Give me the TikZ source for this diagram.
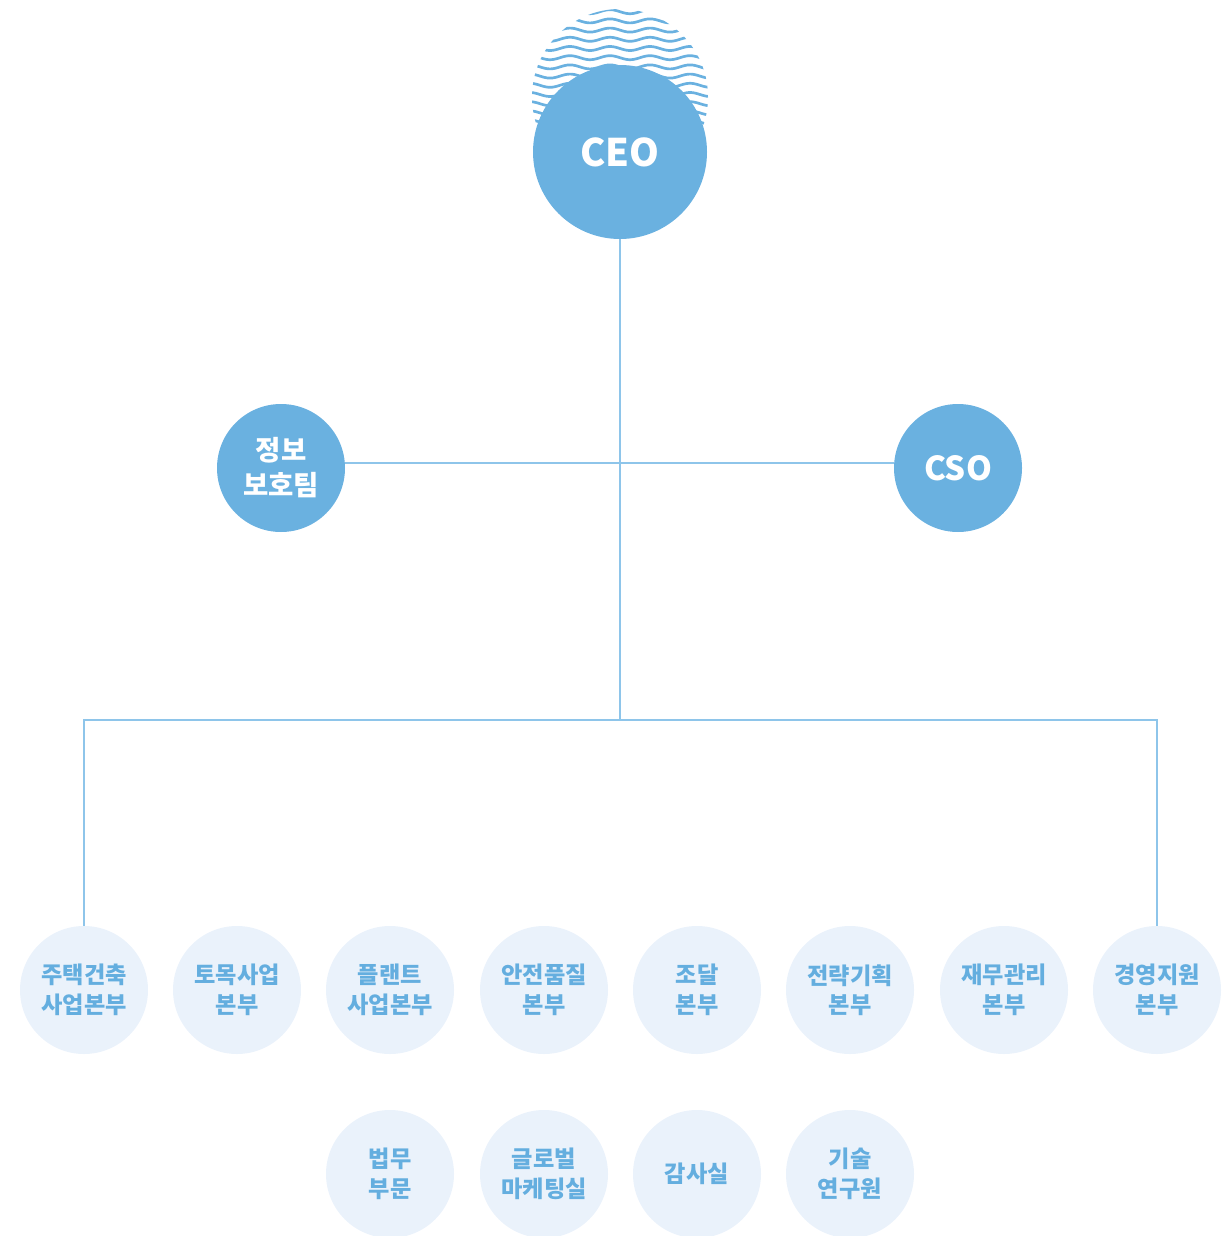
\documentclass[tikz,border=0pt]{standalone}
\usepackage{fontspec}
\setmainfont{Noto Sans CJK KR}
\definecolor{mainblue}{HTML}{6AB1E0}
\definecolor{lightfill}{HTML}{EAF2FB}
\definecolor{linecol}{HTML}{8EC5EA}
\definecolor{textblue}{HTML}{64AEDF}
\tikzset{
  bigc/.style={circle, fill=mainblue, text=white, minimum size=174pt, inner sep=0pt, font=\bfseries\fontsize{38}{44}\selectfont},
  midc/.style={circle, fill=mainblue, text=white, minimum size=128pt, inner sep=0pt, align=center, font=\bfseries\fontsize{27.5}{35}\selectfont},
  deptc/.style={circle, fill=lightfill, text=textblue, minimum size=128pt, inner sep=0pt, align=center, font=\bfseries\fontsize{23.2}{29.5}\selectfont},
  conn/.style={draw=linecol, line width=1.1pt},
  wave/.style={draw=mainblue, line width=2.7pt}
}
\begin{document}
\begin{tikzpicture}[x=1pt,y=-1pt]
\useasboundingbox (0,0) rectangle (1223,1236);
% waves behind CEO
\begin{scope}
  \clip (620,97) circle (88);
  \foreach \k in {0,...,12} {
    \draw[wave] plot[domain=-95:95, samples=120, smooth] ({620+\x}, {11.7 + 9.2*\k - 2*cos(9*(\x+10))});
  }
\end{scope}
% nodes
\node[bigc] (ceo) at (620,152) {CEO};
\node[midc] (info) at (281,468) {정보\\보호팀};
\node[midc, font=\bfseries\fontsize{33}{38}\selectfont] (cso) at (958,468) {CSO};
\coordinate (j1) at (620,463);
\coordinate (j2) at (620,720);
\node[deptc] (d1) at (84,990) {주택건축\\사업본부};
\node[deptc] (d2) at (237,990) {토목사업\\본부};
\node[deptc] (d3) at (390,990) {플랜트\\사업본부};
\node[deptc] (d4) at (544,990) {안전품질\\본부};
\node[deptc] (d5) at (697,990) {조달\\본부};
\node[deptc] (d6) at (850,990) {전략기획\\본부};
\node[deptc] (d7) at (1004,990) {재무관리\\본부};
\node[deptc] (d8) at (1157,990) {경영지원\\본부};
\node[deptc] (e1) at (390,1174) {법무\\부문};
\node[deptc] (e2) at (544,1174) {글로벌\\마케팅실};
\node[deptc] (e3) at (697,1174) {감사실};
\node[deptc] (e4) at (850,1174) {기술\\연구원};
% connectors
\draw[conn] (ceo.south) -- (j2);
\draw[conn] (info.east |- j1) -- (cso.west |- j1);
\draw[conn] (d1.north) |- (j2) -| (d8.north);
\end{tikzpicture}
\end{document}
